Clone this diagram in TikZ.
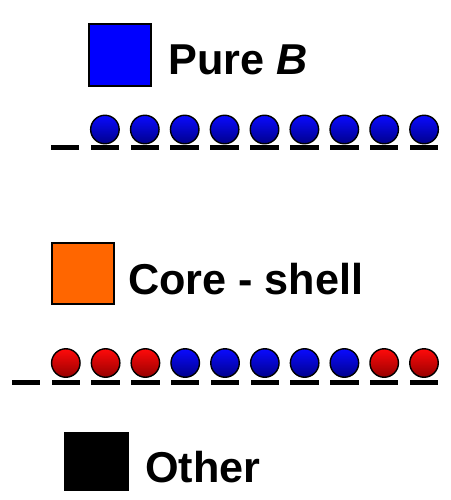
\documentclass[tikz,border=0pt]{standalone}
\usepackage{fontspec}
\setmainfont{Liberation Sans}
\begin{document}
\begin{tikzpicture}[x=1pt,y=-1pt,
  swatch/.style={draw=black,line width=1.5pt},
  lbl/.style={anchor=base west,inner sep=0pt,font=\fontsize{43.2}{50}\selectfont\bfseries},
  dashbar/.style={fill=black,draw=none,minimum width=28.5pt,minimum height=5.5pt,inner sep=0pt,rectangle},
  ball/.style={circle,draw=black,line width=1.4pt,minimum size=28.5pt,inner sep=0pt,shading=axis,shading angle=45},
  bball/.style={ball,top color={rgb,255:red,10;green,10;blue,255},bottom color={rgb,255:red,0;green,0;blue,140}},
  rball/.style={ball,top color={rgb,255:red,255;green,10;blue,10},bottom color={rgb,255:red,150;green,0;blue,0}}]
\useasboundingbox (0,0) rectangle (450,500);
% legend swatches
\draw[swatch,fill={rgb,255:red,0;green,0;blue,255}] (89,24) rectangle (151,86);
\node[lbl] (pure) at (168.5,74.5) {Pure \textit{B}};
\draw[swatch,fill={rgb,255:red,255;green,102;blue,0}] (52,243) rectangle (114,304);
\node[lbl] (core) at (128,294) {Core - shell};
\draw[swatch,fill=black] (65,433) rectangle (128,490);
\node[lbl] (other) at (145,482) {Other};
% row 1
\foreach \i in {0,...,9} {
  \node[dashbar] (da\i) at ({65+39.9*\i},147.5) {};
}
\foreach \i in {1,...,9} {
  \node[bball] (ba\i) at ({65+39.9*\i},129.5) {};
}
% row 2
\foreach \i in {0,...,10} {
  \node[dashbar] (db\i) at ({26+39.8*\i},382.5) {};
}
\foreach \i/\s in {1/rball,2/rball,3/rball,4/bball,5/bball,6/bball,7/bball,8/bball,9/rball,10/rball} {
  \node[\s] (bb\i) at ({26+39.8*\i},363) {};
}
\end{tikzpicture}
\end{document}
